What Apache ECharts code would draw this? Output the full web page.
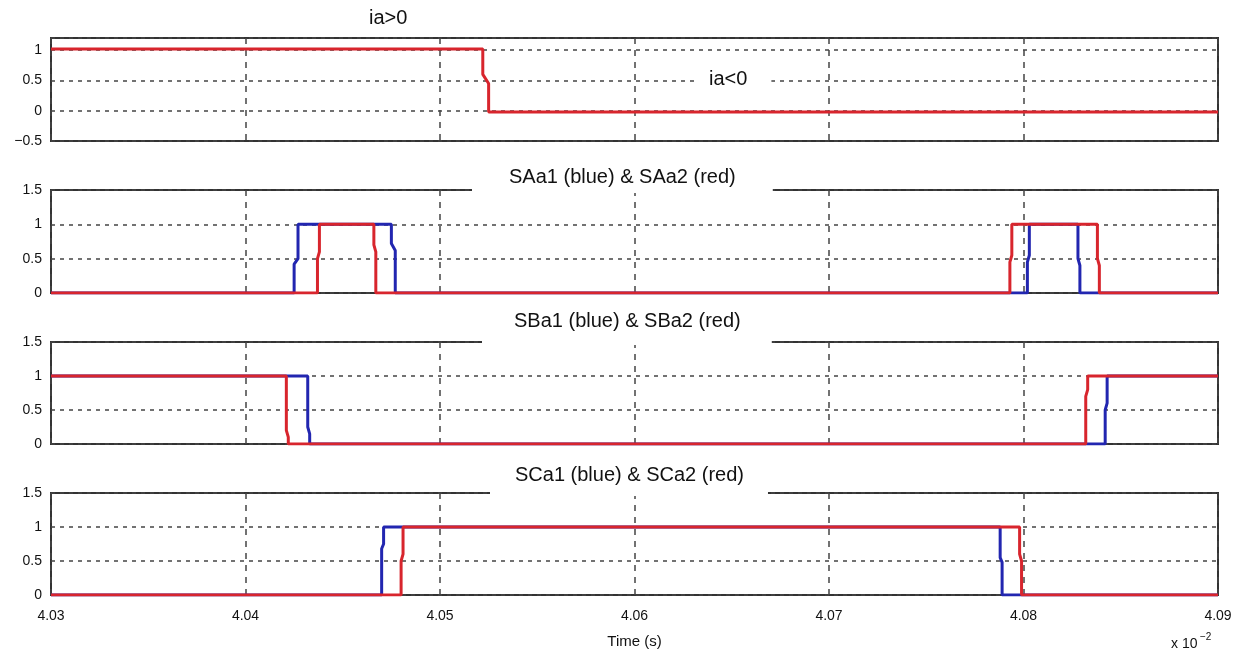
<!DOCTYPE html>
<html>
<head>
<meta charset="utf-8">
<title>switching signals</title>
<script src="https://cdn.jsdelivr.net/npm/echarts@6/dist/echarts.min.js"></script>
<style>
  html, body { margin: 0; padding: 0; background: #fff; }
  #chart { width: 1240px; height: 654px; }
</style>
</head>
<body>
<div id="chart"></div>
<script>
  // x axis (time, x 10^-2 s)
  var xTicks = [4.03, 4.04, 4.05, 4.06, 4.07, 4.08, 4.09];

  // ia sign
  var iaTime = [4.03, 4.0522, 4.0522, 4.0525, 4.0525, 4.09];
  var iaVal = [1.02, 1.02, 0.6, 0.45, -0.02, -0.02];

  // SAa1 (blue) / SAa2 (red)
  var saa1Time = [4.03, 4.0425, 4.0425, 4.0427, 4.0427, 4.0475, 4.0475, 4.0477, 4.0477, 4.0802, 4.0802, 4.0803, 4.0803, 4.0828, 4.0828, 4.0829, 4.0829, 4.09];
  var saa1Val = [0, 0, 0.42, 0.5, 1, 1, 0.72, 0.62, 0, 0, 0.45, 0.55, 1, 1, 0.5, 0.4, 0, 0];
  var saa2Time = [4.03, 4.0437, 4.0437, 4.0438, 4.0438, 4.0466, 4.0466, 4.0467, 4.0467, 4.0793, 4.0793, 4.0794, 4.0794, 4.0838, 4.0838, 4.0839, 4.0839, 4.09];
  var saa2Val = [0, 0, 0.5, 0.6, 1, 1, 0.7, 0.6, 0, 0, 0.45, 0.55, 1, 1, 0.5, 0.4, 0, 0];

  // SBa1 (blue) / SBa2 (red)
  var sba1Time = [4.03, 4.0432, 4.0432, 4.0433, 4.0433, 4.0842, 4.0842, 4.0843, 4.0843, 4.09];
  var sba1Val = [1, 1, 0.25, 0.15, 0, 0, 0.5, 0.6, 1, 1];
  var sba2Time = [4.03, 4.0421, 4.0421, 4.0422, 4.0422, 4.0832, 4.0832, 4.0833, 4.0833, 4.09];
  var sba2Val = [1, 1, 0.2, 0.1, 0, 0, 0.7, 0.8, 1, 1];

  // SCa1 (blue) / SCa2 (red)
  var sca1Time = [4.03, 4.047, 4.047, 4.0471, 4.0471, 4.0788, 4.0788, 4.0789, 4.0789, 4.09];
  var sca1Val = [0, 0, 0.68, 0.75, 1, 1, 0.55, 0.48, 0, 0];
  var sca2Time = [4.03, 4.048, 4.048, 4.0481, 4.0481, 4.0798, 4.0798, 4.0799, 4.0799, 4.09];
  var sca2Val = [0, 0, 0.5, 0.6, 1, 1, 0.6, 0.5, 0, 0];

  var panelTitles = ['ia>0', 'SAa1 (blue) & SAa2 (red)', 'SBa1 (blue) & SBa2 (red)', 'SCa1 (blue) & SCa2 (red)'];

  var RED = '#d8252d';
  var BLUE = '#2226b0';
  var FONT = '"Liberation Sans", Arial, Helvetica, sans-serif';

  function pairs(t, v) {
    return t.map(function (x, i) { return [x, v[i]]; });
  }

  var gridTops = [38, 190, 342, 493];
  var gridHeights = [103, 103, 102, 102];

  var grids = [], xAxes = [], yAxes = [];
  for (var i = 0; i < 4; i++) {
    grids.push({
      left: 51, right: 22, top: gridTops[i], height: gridHeights[i],
      show: true, borderColor: '#333', borderWidth: 2, backgroundColor: '#fff'
    });
    xAxes.push({
      type: 'value', gridIndex: i,
      min: xTicks[0], max: xTicks[xTicks.length - 1], interval: 0.01,
      axisLine: { show: false },
      axisTick: { show: false },
      axisLabel: {
        show: i === 3, margin: 14, fontSize: 14, color: '#111', fontFamily: FONT,
        formatter: function (v) { return v.toFixed(2); }
      },
      splitLine: { show: true, lineStyle: { color: '#444', type: [6, 6], width: 1.5 } },
      name: i === 3 ? 'Time (s)' : '',
      nameLocation: 'middle', nameGap: 39,
      nameTextStyle: { fontSize: 15, color: '#111', fontFamily: FONT }
    });
    yAxes.push({
      type: 'value', gridIndex: i,
      min: i === 0 ? -0.5 : 0, max: i === 0 ? 1.2 : 1.5, interval: 0.5,
      axisLine: { show: false },
      axisTick: { show: false },
      axisLabel: {
        margin: 9, fontSize: 14, color: '#111', fontFamily: FONT,
        formatter: function (v) {
          if (Math.abs(v * 2 - Math.round(v * 2)) > 1e-6) return '';
          return v < 0 ? '\u2212' + Math.abs(v) : String(v);
        }
      },
      splitLine: { show: true, lineStyle: { color: '#444', type: [4, 5], width: 1.5 } }
    });
  }

  function line(name, t, v, color, idx) {
    return {
      name: name, type: 'line', xAxisIndex: idx, yAxisIndex: idx,
      data: pairs(t, v), showSymbol: false, symbol: 'none',
      lineStyle: { color: color, width: 3 }, z: 3
    };
  }

  var txt = { fontSize: 20, fontWeight: 'normal', color: '#111', fontFamily: FONT, lineHeight: 20 };

  var option = {
    animation: false,
    backgroundColor: '#fff',
    title: [
      { text: panelTitles[0], left: 369, top: 8, textAlign: 'left', padding: 0, textStyle: txt },
      { text: 'ia<0', left: 695, top: 66, textAlign: 'left', padding: [3, 24, 3, 14], backgroundColor: '#fff', textStyle: txt },
      { text: panelTitles[1], left: 472, top: 165, textAlign: 'left', padding: [2, 37, 6, 37], backgroundColor: '#fff', textStyle: txt },
      { text: panelTitles[2], left: 482, top: 309, textAlign: 'left', padding: [2, 31, 14, 32], backgroundColor: '#fff', textStyle: txt },
      { text: panelTitles[3], left: 490, top: 463, textAlign: 'left', padding: [2, 24, 11, 25], backgroundColor: '#fff', textStyle: txt }
    ],
    grid: grids,
    xAxis: xAxes,
    yAxis: yAxes,
    series: [
      line('ia', iaTime, iaVal, RED, 0),
      line('SAa1', saa1Time, saa1Val, BLUE, 1),
      line('SAa2', saa2Time, saa2Val, RED, 1),
      line('SBa1', sba1Time, sba1Val, BLUE, 2),
      line('SBa2', sba2Time, sba2Val, RED, 2),
      line('SCa1', sca1Time, sca1Val, BLUE, 3),
      line('SCa2', sca2Time, sca2Val, RED, 3)
    ],
    graphic: [
      { type: 'text', left: 1171, top: 637, style: { text: 'x 10', fontSize: 14, fill: '#111', fontFamily: FONT } },
      { type: 'text', left: 1200, top: 632, style: { text: '\u22122', fontSize: 10, fill: '#111', fontFamily: FONT } }
    ]
  };

  var myChart = echarts.init(document.getElementById('chart'));
  myChart.setOption(option);
</script>
</body>
</html>
